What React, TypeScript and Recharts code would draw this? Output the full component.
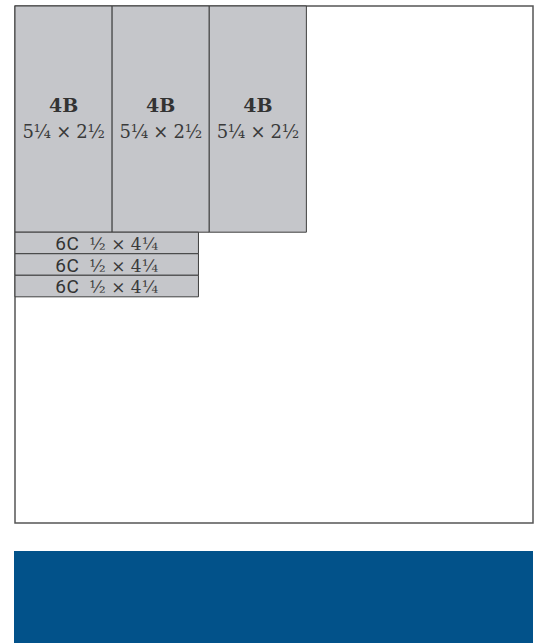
import React from 'react';
import { ComposedChart, XAxis, YAxis, ReferenceArea } from 'recharts';

// Sheet size (inches)
const sheetWidth = 12;
const sheetHeight = 12;

// Cut pieces
const pieceNames = ['4B', '4B', '4B', '6C', '6C', '6C'];
const pieceSizes = ['5¼ × 2½', '5¼ × 2½', '5¼ × 2½', '½ × 4¼', '½ × 4¼', '½ × 4¼'];
const pieceX = [0, 2.25, 4.5, 0, 0, 0];
const pieceY = [0, 0, 0, 5.25, 5.75, 6.25];
const pieceW = [2.25, 2.25, 2.25, 4.25, 4.25, 4.25];
const pieceH = [5.25, 5.25, 5.25, 0.5, 0.5, 0.5];

const pieces = pieceNames.map((name, i) => ({
  name,
  size: pieceSizes[i],
  x1: pieceX[i],
  x2: pieceX[i] + pieceW[i],
  y1: pieceY[i],
  y2: pieceY[i] + pieceH[i],
  tall: pieceH[i] > 1,
}));

const chartData = pieces.map((p) => ({ x: p.x1, y: p.y1 }));

const TallLabel = (props: any) => {
  const vb = props.viewBox || {};
  const cx = vb.x + vb.width / 2;
  const cy = vb.y + vb.height / 2;
  return (
    <g>
      <text x={cx} y={cy - 7} textAnchor="middle" fontFamily="DejaVu Serif" fontWeight="bold" fontSize={19} fill="#333">
        {props.name}
      </text>
      <text x={cx} y={cy + 19} textAnchor="middle" fontFamily="DejaVu Serif" fontSize={18} fill="#3a3a3a" letterSpacing={-0.3}>
        {props.size}
      </text>
    </g>
  );
};

const StripLabel = (props: any) => {
  const vb = props.viewBox || {};
  const cx = vb.x + vb.width / 2;
  const cy = vb.y + vb.height / 2;
  return (
    <text x={cx} y={cy + 7} textAnchor="middle" fill="#333">
      <tspan fontFamily="Roboto" fontSize={19} fontWeight={400} letterSpacing={0.5}>{props.name}</tspan>
      <tspan fontFamily="DejaVu Serif" fontSize={17} dx={10} fill="#3a3a3a">{props.size}</tspan>
    </text>
  );
};

export default function App() {
  return (
    <div style={{ position: 'absolute', left: 0, top: 0, width: 535, height: 643, background: '#fff' }}>
      <ComposedChart
        width={535}
        height={643}
        data={chartData}
        margin={{ top: 6, left: 15, right: 2, bottom: 120 }}
      >
        <XAxis dataKey="x" type="number" domain={[0, sheetWidth]} allowDataOverflow hide />
        <YAxis dataKey="y" type="number" domain={[0, sheetHeight]} allowDataOverflow reversed hide />
        <ReferenceArea
          x1={0}
          x2={sheetWidth}
          y1={0}
          y2={sheetHeight}
          fill="#fff"
          fillOpacity={1}
          stroke="#555"
          strokeWidth={1.5}
          ifOverflow="visible"
        />
        {pieces.map((p, i) => (
          <ReferenceArea
            key={i}
            x1={p.x1}
            x2={p.x2}
            y1={p.y1}
            y2={p.y2}
            fill="#C5C6CA"
            fillOpacity={1}
            stroke="#3f3f3f"
            strokeWidth={1}
            ifOverflow="visible"
            label={p.tall ? <TallLabel name={p.name} size={p.size} /> : <StripLabel name={p.name} size={p.size} />}
          />
        ))}
      </ComposedChart>
      <div style={{ position: 'absolute', left: 14, top: 551, width: 519, height: 92, background: '#02528A' }} />
    </div>
  );
}
